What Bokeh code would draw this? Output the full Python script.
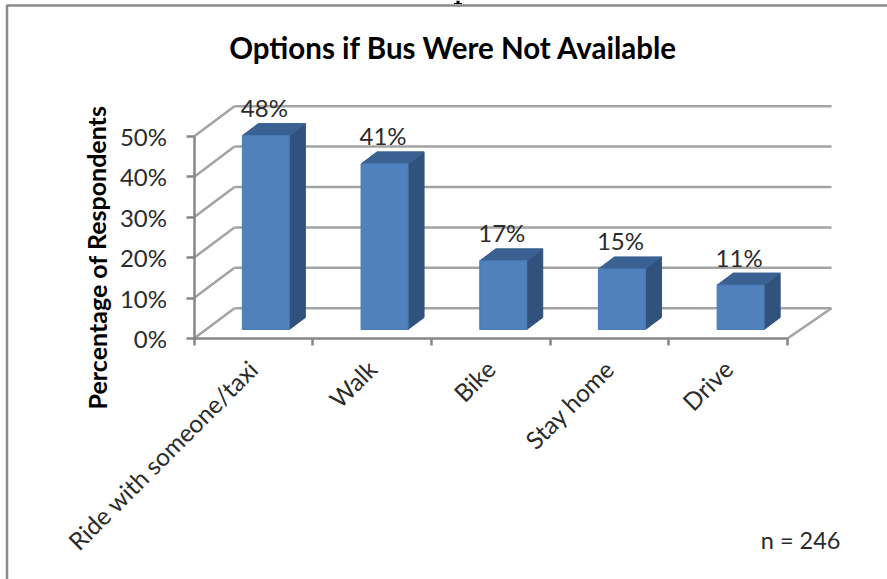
from bokeh.core.properties import value
from bokeh.embed import file_html
from bokeh.models import FixedTicker, PrintfTickFormatter, Range1d
from bokeh.plotting import figure
from bokeh.resources import INLINE

categories = ["Ride with someone/taxi", "Walk", "Bike", "Stay home", "Drive"]
shares = [48, 41, 17, 15, 11]
share_labels = ["48%", "41%", "17%", "15%", "11%"]
share_ticks = [0, 10, 20, 30, 40, 50]
title = "Options if Bus Were Not Available"
y_title = "Percentage of Respondents"
sample_note = "n = 246"

W, H = 887, 579
ORIGIN_X, ORIGIN_Y = 193.5, 338
PX_PER_CAT, PX_PER_PCT = 118.7, 4.04
GRID = "#a3a3a3"
AXIS = "#878787"
INK = "#2b2b2b"
FONT = value("Lato")

# The data ranges are scaled so that one unit of category and one percent
# have a fixed pixel size; depth offsets below are expressed in those units.
p = figure(
    width=W, height=H, output_backend="svg", toolbar_location=None,
    x_range=Range1d(-ORIGIN_X / PX_PER_CAT, (W - ORIGIN_X) / PX_PER_CAT),
    y_range=Range1d(-(H - ORIGIN_Y) / PX_PER_PCT, ORIGIN_Y / PX_PER_PCT),
    min_border=0, outline_line_color=None, background_fill_color="white",
)
p.grid.visible = False


def dx(px):
    return px / PX_PER_CAT


def dy(px):
    return px / PX_PER_PCT


def page_x(px):
    return (px - ORIGIN_X) / PX_PER_CAT


def page_y(px):
    return (ORIGIN_Y - px) / PX_PER_PCT


# Chart frame; it runs off the right and bottom of the page
p.line([page_x(6.5), page_x(6.5), page_x(W)], [page_y(H), page_y(5), page_y(5)],
       line_color="#8a8a8a", line_width=2.5)

# Foot of a stroke left over from the page heading, above the frame
p.line([page_x(457.5), page_x(457.5)], [page_y(0), page_y(3)], line_color="black", line_width=3)
p.line([page_x(453.5), page_x(461.5)], [page_y(3), page_y(3)], line_color="black", line_width=1)

# Floor and back-wall gridlines of the oblique box
WALL_X, WALL_Y = dx(40.5), dy(30.3)
WIDTH = 5
for v in share_ticks:
    p.line([0, WALL_X], [v, v + WALL_Y], line_color=GRID, line_width=2.5)
    p.line([WALL_X, WIDTH + dx(44)], [v + WALL_Y, v + WALL_Y], line_color=GRID, line_width=2.5)
p.line([WIDTH, WIDTH + dx(44)], [0, WALL_Y], line_color=GRID, line_width=2.5)

# Bars: front face, top and side
BAR_BASE = dy(9)
BAR_W = dx(47)
DEPTH_X, DEPTH_Y = dx(16), dy(12)
for i, s in enumerate(shares):
    cx = i + 0.5 + dx(12.5)
    x0, x1 = cx - BAR_W / 2, cx + BAR_W / 2
    top = BAR_BASE + s
    p.patch([x1, x1 + DEPTH_X, x1 + DEPTH_X, x1],
            [BAR_BASE, BAR_BASE + DEPTH_Y, top + DEPTH_Y, top],
            fill_color="#30527d", line_color="#30527d", line_width=1)
    p.patch([x0, x1, x1 + DEPTH_X, x0 + DEPTH_X],
            [top, top, top + DEPTH_Y, top + DEPTH_Y],
            fill_color="#3a6191", line_color="#3a6191", line_width=1)
    p.quad(left=x0, right=x1, bottom=BAR_BASE, top=top,
           fill_color="#4f81bd", line_color="#4a7ab5", line_width=1)
    p.text([cx - dx(1.5)], [top + DEPTH_Y + dy(16)], text=[share_labels[i]],
           text_font=FONT, text_font_size="24px", text_color=INK,
           text_align="center", text_baseline="middle")

# Front axes
p.yaxis.fixed_location = 0
p.yaxis.bounds = (0, 50)
p.yaxis.ticker = FixedTicker(ticks=share_ticks)
p.yaxis.formatter = PrintfTickFormatter(format="%d%%")
p.yaxis.axis_line_color = AXIS
p.yaxis.axis_line_width = 2.5
p.yaxis.major_tick_line_color = AXIS
p.yaxis.major_tick_line_width = 2.5
p.yaxis.major_tick_in = 0
p.yaxis.major_tick_out = 8
p.yaxis.minor_tick_line_color = None
p.yaxis.major_label_text_font = "Lato"
p.yaxis.major_label_text_font_size = "24px"
p.yaxis.major_label_text_color = INK
p.yaxis.major_label_standoff = 19

# Category labels sit on the major ticks; the visible ticks are the minor ones
# at the category boundaries.
centres = [i + 0.5 for i in range(len(categories))]
boundaries = list(range(WIDTH + 1))
p.xaxis.fixed_location = 0
p.xaxis.bounds = (0, WIDTH)
p.xaxis.ticker = FixedTicker(ticks=centres, minor_ticks=boundaries)
p.xaxis.major_label_overrides = dict(zip(centres, categories))
p.xaxis.major_label_orientation = 0.785
p.xaxis.major_label_text_font = "Lato"
p.xaxis.major_label_text_font_size = "24.5px"
p.xaxis.major_label_text_color = INK
p.xaxis.major_label_standoff = 19
p.xaxis.axis_line_color = AXIS
p.xaxis.axis_line_width = 2.5
p.xaxis.major_tick_line_color = None
p.xaxis.minor_tick_line_color = AXIS
p.xaxis.minor_tick_line_width = 2.5
p.xaxis.minor_tick_in = 0
p.xaxis.minor_tick_out = 7

# Titles and the sample size note
p.text([page_x(453)], [page_y(47)], text=[title],
       text_font=FONT, text_font_style="bold", text_font_size="29.5px", text_color="black",
       text_align="center", text_baseline="middle")
p.text([page_x(96)], [page_y(257)], text=[y_title],
       text_font=FONT, text_font_style="bold", text_font_size="25px", text_color="black",
       text_align="center", text_baseline="middle", angle=1.5708)
p.text([page_x(840)], [page_y(539)], text=[sample_note],
       text_font=FONT, text_font_size="23.5px", text_color=INK,
       text_align="right", text_baseline="middle")

open("out.html", "w").write(file_html(p, INLINE))
